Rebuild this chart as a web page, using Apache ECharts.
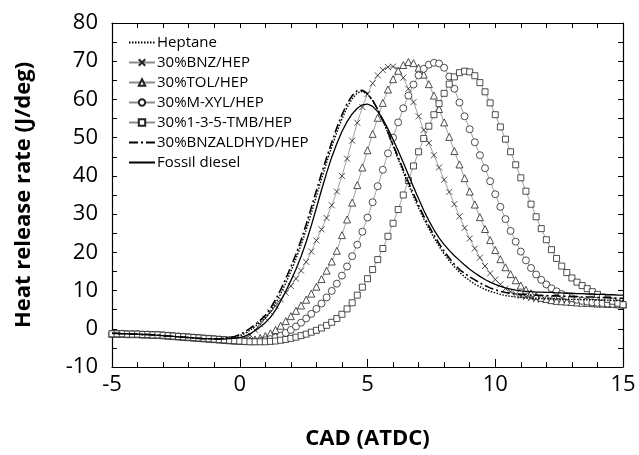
<!DOCTYPE html>
<html>
<head>
<meta charset="utf-8">
<script src="https://cdn.jsdelivr.net/npm/echarts@6/dist/echarts.min.js"></script>
<style>
  html, body { margin: 0; padding: 0; background: #fff; }
  #chart { width: 639px; height: 455px; }
</style>
</head>
<body>
<div id="chart"></div>
<script>
// crank angle (CAD, ATDC), 0.2 deg steps
const cad = [
  -5, -4.8, -4.6, -4.4, -4.2, -4, -3.8, -3.6, -3.4, -3.2,
  -3, -2.8, -2.6, -2.4, -2.2, -2, -1.8, -1.6, -1.4, -1.2,
  -1, -0.8, -0.6, -0.4, -0.2, 0, 0.2, 0.4, 0.6, 0.8,
  1, 1.2, 1.4, 1.6, 1.8, 2, 2.2, 2.4, 2.6, 2.8,
  3, 3.2, 3.4, 3.6, 3.8, 4, 4.2, 4.4, 4.6, 4.8,
  5, 5.2, 5.4, 5.6, 5.8, 6, 6.2, 6.4, 6.6, 6.8,
  7, 7.2, 7.4, 7.6, 7.8, 8, 8.2, 8.4, 8.6, 8.8,
  9, 9.2, 9.4, 9.6, 9.8, 10, 10.2, 10.4, 10.6, 10.8,
  11, 11.2, 11.4, 11.6, 11.8, 12, 12.2, 12.4, 12.6, 12.8,
  13, 13.2, 13.4, 13.6, 13.8, 14, 14.2, 14.4, 14.6, 14.8,
  15
];

// heat release rate (J/deg)
const heptane = [
  -1.2, -1.2, -1.3, -1.3, -1.4, -1.4, -1.5, -1.5, -1.6, -1.7,
  -1.8, -1.9, -2.0, -2.1, -2.2, -2.3, -2.4, -2.5, -2.6, -2.6,
  -2.6, -2.6, -2.5, -2.4, -2.2, -1.8, -1.2, -0.4, 0.6, 1.7,
  2.9, 4.5, 6.6, 9.1, 11.9, 15.0, 18.3, 21.9, 25.9, 30.2,
  34.7, 39.2, 43.5, 47.6, 51.4, 54.9, 57.9, 60.2, 61.7, 62.1,
  61.4, 59.7, 57.3, 54.4, 51.2, 47.8, 44.4, 41.0, 37.7, 34.6,
  31.6, 28.8, 26.2, 23.8, 21.6, 19.6, 17.8, 16.2, 14.8, 13.6,
  12.6, 11.7, 11.0, 10.3, 9.8, 9.4, 9.0, 8.7, 8.5, 8.3,
  8.2, 8.1, 8.0, 8.0, 7.9, 7.9, 7.8, 7.8, 7.8, 7.7,
  7.7, 7.7, 7.6, 7.6, 7.6, 7.5, 7.5, 7.5, 7.4, 7.4,
  7.4
];

const bnz = [
  -1.3, -1.3, -1.3, -1.4, -1.4, -1.4, -1.5, -1.5, -1.6, -1.6,
  -1.7, -1.8, -1.9, -2.0, -2.1, -2.2, -2.3, -2.4, -2.5, -2.6,
  -2.7, -2.8, -2.9, -3.0, -3.0, -3.0, -2.5, -1.6, -0.3, 1.2,
  2.7, 4.3, 6.0, 7.7, 9.4, 11.2, 13.1, 15.2, 17.5, 20.2,
  23.1, 26.0, 29.0, 32.3, 35.9, 40.0, 44.5, 49.2, 53.9, 58.0,
  61.4, 64.2, 66.3, 67.7, 68.5, 68.6, 67.8, 65.7, 62.8, 59.3,
  55.6, 52.0, 48.6, 45.4, 42.2, 39.0, 35.8, 32.6, 29.4, 26.4,
  23.6, 21.0, 18.6, 16.4, 14.5, 12.9, 11.6, 10.5, 9.7, 9.1,
  8.6, 8.3, 8.0, 7.8, 7.6, 7.5, 7.4, 7.3, 7.2, 7.1,
  7.0, 6.9, 6.8, 6.7, 6.7, 6.6, 6.5, 6.5, 6.4, 6.3,
  6.3
];

const tol = [
  -1.3, -1.3, -1.3, -1.4, -1.4, -1.4, -1.5, -1.5, -1.6, -1.6,
  -1.7, -1.8, -1.9, -2.0, -2.1, -2.2, -2.3, -2.4, -2.5, -2.6,
  -2.7, -2.8, -2.9, -3.0, -3.1, -3.1, -3.1, -3.0, -2.8, -2.4,
  -1.9, -1.2, -0.3, 0.8, 2.0, 3.3, 4.7, 6.1, 7.6, 9.2,
  11.0, 13.0, 15.2, 17.6, 20.4, 24.5, 28.6, 33.0, 37.6, 42.2,
  46.7, 51.0, 55.2, 59.1, 62.6, 65.3, 67.5, 69.0, 69.8, 69.5,
  68.3, 66.5, 64.0, 61.0, 57.5, 54.0, 50.2, 46.5, 43.0, 39.4,
  35.9, 32.5, 29.2, 26.1, 23.2, 20.6, 18.2, 16.1, 14.3, 12.7,
  11.3, 10.2, 9.3, 8.6, 8.1, 7.8, 7.5, 7.3, 7.2, 7.1,
  7.0, 6.9, 6.8, 6.8, 6.7, 6.6, 6.6, 6.5, 6.5, 6.4,
  6.4
];

const mxyl = [
  -1.3, -1.3, -1.3, -1.4, -1.4, -1.4, -1.5, -1.5, -1.6, -1.6,
  -1.7, -1.8, -1.9, -2.0, -2.1, -2.2, -2.3, -2.4, -2.5, -2.6,
  -2.7, -2.8, -2.9, -3.0, -3.1, -3.2, -3.3, -3.3, -3.3, -3.2,
  -3.0, -2.7, -2.3, -1.8, -1.1, -0.3, 0.6, 1.6, 2.7, 3.9,
  5.2, 6.6, 8.2, 9.9, 11.8, 13.9, 16.3, 19.0, 22.0, 25.4,
  29.1, 33.1, 37.3, 41.6, 45.9, 50.0, 54.0, 57.7, 61.0, 63.9,
  66.3, 68.0, 69.1, 69.6, 69.4, 68.3, 66.0, 62.8, 59.2, 55.6,
  52.2, 48.8, 45.4, 42.0, 38.6, 35.2, 31.9, 28.7, 25.6, 22.8,
  20.2, 17.9, 15.9, 14.2, 12.8, 11.6, 10.6, 9.8, 9.1, 8.5,
  8.0, 7.6, 7.3, 7.1, 6.9, 6.8, 6.7, 6.6, 6.5, 6.4,
  6.3
];

const tmb = [
  -1.3, -1.3, -1.3, -1.4, -1.4, -1.4, -1.5, -1.5, -1.6, -1.6,
  -1.7, -1.8, -1.9, -2.0, -2.1, -2.2, -2.3, -2.4, -2.5, -2.6,
  -2.7, -2.8, -2.9, -3.0, -3.1, -3.2, -3.3, -3.4, -3.4, -3.4,
  -3.4, -3.3, -3.2, -3.0, -2.8, -2.5, -2.2, -1.8, -1.4, -0.9,
  -0.4, 0.2, 0.9, 1.7, 2.7, 3.8, 5.2, 6.8, 8.8, 10.9,
  13.1, 15.5, 18.1, 21.0, 24.2, 27.6, 31.2, 35.0, 38.8, 42.6,
  46.3, 49.8, 53.0, 56.0, 58.9, 61.6, 64.0, 65.9, 67.0, 67.4,
  67.2, 66.2, 64.4, 62.0, 59.1, 56.0, 52.8, 49.6, 46.3, 42.9,
  39.5, 36.0, 32.6, 29.3, 26.2, 23.3, 20.7, 18.4, 16.4, 14.7,
  13.3, 12.2, 11.3, 10.5, 9.7, 9.0, 8.3, 7.7, 7.2, 6.7,
  6.3
];

const bnzaldhyd = [
  -1.2, -1.2, -1.3, -1.3, -1.4, -1.4, -1.5, -1.5, -1.6, -1.7,
  -1.8, -1.9, -2.0, -2.1, -2.2, -2.3, -2.4, -2.5, -2.6, -2.6,
  -2.6, -2.6, -2.5, -2.3, -2.0, -1.5, -0.8, 0.1, 1.1, 2.2,
  3.5, 5.3, 7.6, 10.2, 13.1, 16.2, 19.5, 23.2, 27.3, 31.7,
  36.2, 40.6, 44.8, 48.8, 52.6, 56.0, 58.9, 61.0, 62.3, 62.4,
  61.5, 59.8, 57.4, 54.6, 51.5, 48.2, 44.9, 41.6, 38.4, 35.3,
  32.3, 29.5, 26.9, 24.5, 22.3, 20.3, 18.5, 16.9, 15.5, 14.5,
  13.6, 12.8, 12.0, 11.3, 10.7, 10.2, 9.8, 9.5, 9.3, 9.1,
  9.0, 8.9, 8.8, 8.8, 8.7, 8.7, 8.6, 8.6, 8.5, 8.5,
  8.4, 8.4, 8.3, 8.3, 8.3, 8.2, 8.2, 8.1, 8.1, 8.0,
  8.0
];

const diesel = [
  -1.2, -1.2, -1.3, -1.3, -1.4, -1.4, -1.5, -1.5, -1.6, -1.7,
  -1.8, -1.9, -2.0, -2.1, -2.2, -2.3, -2.4, -2.5, -2.6, -2.6,
  -2.7, -2.7, -2.7, -2.6, -2.5, -2.3, -1.9, -1.3, -0.5, 0.5,
  1.6, 3.0, 4.9, 7.2, 9.8, 12.6, 15.6, 18.9, 22.7, 27.0,
  31.6, 36.3, 40.8, 44.9, 48.5, 51.6, 54.2, 56.2, 57.7, 58.6,
  58.8, 58.2, 56.8, 54.8, 52.3, 49.5, 46.6, 43.5, 40.3, 37.1,
  34.0, 31.0, 28.3, 25.9, 23.8, 22.0, 20.5, 19.1, 17.9, 16.7,
  15.6, 14.6, 13.7, 12.9, 12.2, 11.6, 11.1, 10.7, 10.4, 10.1,
  9.9, 9.8, 9.7, 9.6, 9.6, 9.5, 9.5, 9.4, 9.4, 9.3,
  9.3, 9.2, 9.2, 9.1, 9.1, 9.0, 9.0, 8.9, 8.9, 8.8,
  8.8
];

const FONT = 'Open Sans';

function pairs(vals) {
  return cad.map((x, i) => [x, vals[i]]);
}

function markerSeries(name, vals, symbol, size) {
  return {
    name: name,
    type: 'line',
    data: pairs(vals),
    symbol: symbol,
    symbolSize: size,
    showAllSymbol: true,
    lineStyle: { color: '#8a8a8a', width: 0.8 },
    itemStyle: { color: '#fff', borderColor: '#222', borderWidth: 0.8 },
    emphasis: { disabled: true },
    z: 3
  };
}

function plainSeries(name, vals, type, width) {
  return {
    name: name,
    type: 'line',
    data: pairs(vals),
    symbol: 'none',
    // empty icon so the legend shows only the line sample
    legendIcon: 'path://M0,0L0.01,0',
    lineStyle: { color: '#000', width: width, type: type },
    itemStyle: { color: 'transparent' },
    emphasis: { disabled: true },
    z: 4
  };
}

const chart = echarts.init(document.getElementById('chart'));

const sideAxis = {
  show: true,
  axisLine: { show: true, onZero: false, lineStyle: { color: '#000', width: 1.2 } },
  axisLabel: { show: false },
  splitLine: { show: false }
};

chart.setOption({
  animation: false,
  textStyle: { fontFamily: FONT },
  grid: { left: 112, right: 16, top: 23, bottom: 88 },
  legend: {
    orient: 'vertical',
    left: 123,
    top: 30,
    itemWidth: 26,
    itemHeight: 8,
    itemGap: 5,
    textStyle: { fontFamily: FONT, fontSize: 15, color: '#000', lineHeight: 15, padding: [0, 0, 0, -3] },
    data: ['Heptane', '30%BNZ/HEP', '30%TOL/HEP', '30%M-XYL/HEP', '30%1-3-5-TMB/HEP', '30%BNZALDHYD/HEP', 'Fossil diesel']
  },
  xAxis: [
    {
      type: 'value', min: -5, max: 15, interval: 5, position: 'bottom',
      name: 'CAD (ATDC)', nameLocation: 'middle', nameGap: 61,
      nameTextStyle: { fontFamily: FONT, fontSize: 22, fontWeight: 'bold', color: '#000' },
      axisLine: { onZero: false, lineStyle: { color: '#000', width: 1.2 } },
      axisTick: { inside: true, length: 8, lineStyle: { color: '#000' } },
      minorTick: { show: true, splitNumber: 5, length: 5, lineStyle: { color: '#000' } },
      axisLabel: { fontFamily: FONT, fontSize: 22, color: '#000', margin: 7 },
      splitLine: { show: false }
    },
    Object.assign({
      type: 'value', min: -5, max: 15, interval: 5, position: 'top',
      axisTick: { inside: true, length: 5, lineStyle: { color: '#000' } },
      minorTick: { show: true, splitNumber: 5, length: 5, lineStyle: { color: '#000' } }
    }, sideAxis)
  ],
  yAxis: [
    {
      type: 'value', min: -10, max: 80, interval: 10, position: 'left',
      name: 'Heat release rate (J/deg)', nameLocation: 'middle', nameGap: 77,
      nameTextStyle: { fontFamily: FONT, fontSize: 22, fontWeight: 'bold', color: '#000' },
      axisLine: { show: true, onZero: false, lineStyle: { color: '#000', width: 1.2 } },
      axisTick: { inside: true, length: 5, lineStyle: { color: '#000' } },
      minorTick: { show: true, splitNumber: 2, length: 5, lineStyle: { color: '#000' } },
      axisLabel: { fontFamily: FONT, fontSize: 22, color: '#000', margin: 14 },
      splitLine: { show: false }
    },
    Object.assign({
      type: 'value', min: -10, max: 80, interval: 10, position: 'right',
      axisTick: { inside: true, length: 5, lineStyle: { color: '#000' } },
      minorTick: { show: true, splitNumber: 2, length: 5, lineStyle: { color: '#000' } }
    }, sideAxis)
  ],
  series: [
    plainSeries('Heptane', heptane, [1.5, 1.5], 1.4),
    markerSeries('30%BNZ/HEP', bnz, 'path://M0,0L10,10M10,0L0,10', 6),
    markerSeries('30%TOL/HEP', tol, 'triangle', 7),
    markerSeries('30%M-XYL/HEP', mxyl, 'circle', 7),
    markerSeries('30%1-3-5-TMB/HEP', tmb, 'rect', 6),
    plainSeries('30%BNZALDHYD/HEP', bnzaldhyd, [9, 3, 2, 3], 1.6),
    plainSeries('Fossil diesel', diesel, 'solid', 1.3)
  ]
});
</script>
</body>
</html>
